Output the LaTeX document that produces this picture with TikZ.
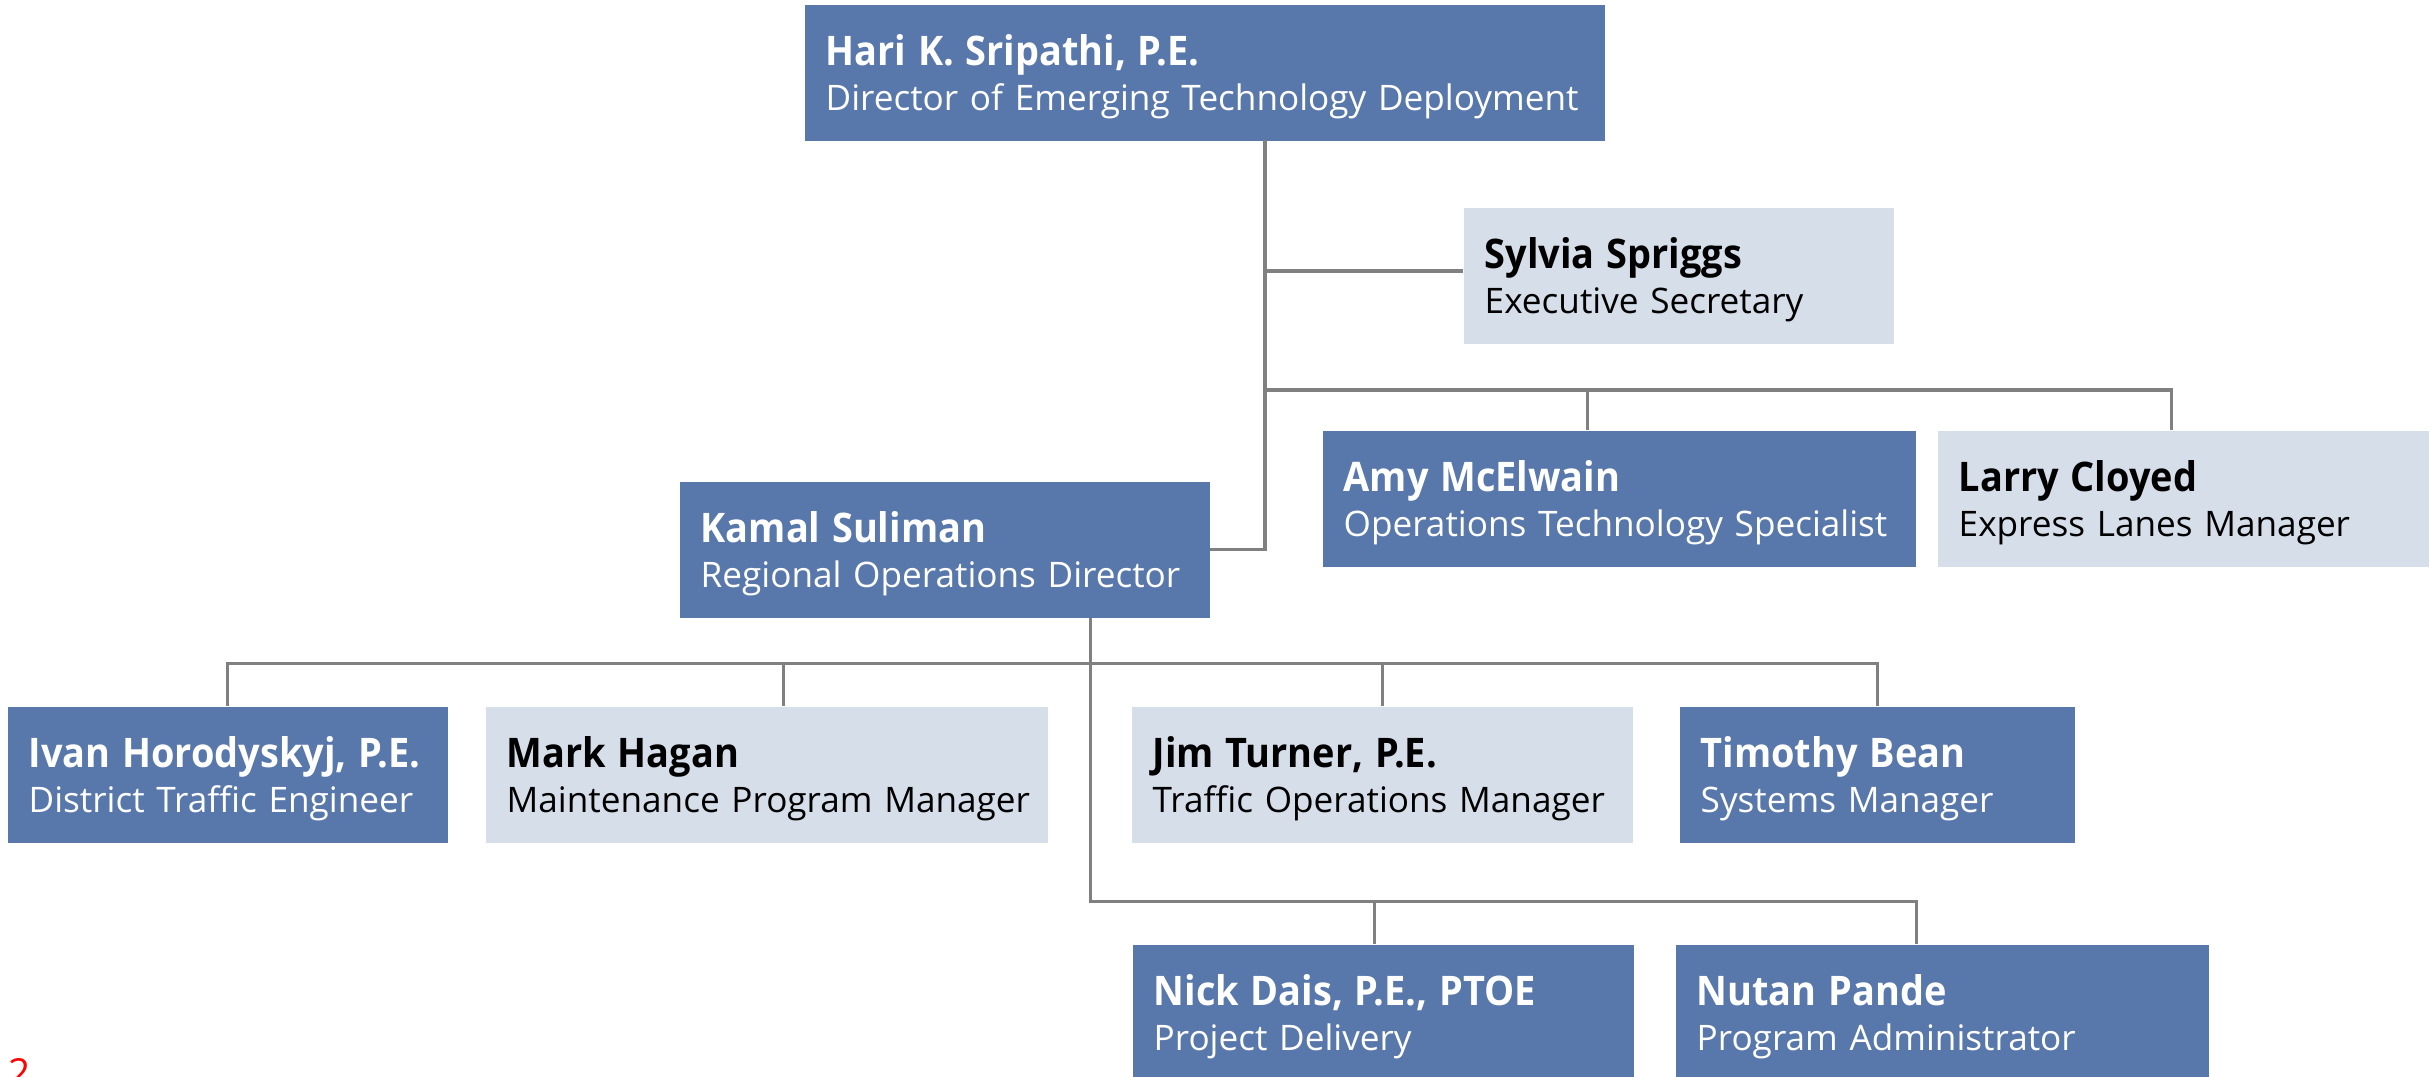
\documentclass[tikz,border=0pt]{standalone}
\usepackage{fontspec}
\setmainfont{Open Sans}
\newfontfamily\namefont[FakeStretch=0.93]{Open Sans}
\definecolor{leadblue}{RGB}{88,119,171}
\definecolor{staffgrey}{RGB}{214,222,234}
\definecolor{linkgrey}{RGB}{128,128,128}
\newcommand\fullname[1]{\mbox{\rule{0pt}{0.40cm}\namefont\fontsize{11.6}{12.8}\selectfont\bfseries #1}}
\newcommand\post[1]{\mbox{\rule[-0.09cm]{0pt}{0.09cm}#1}}
\begin{document}
\begin{tikzpicture}[yscale=-1,
    card/.style={anchor=north west,minimum height=1.36cm,inner xsep=0.21cm,
      inner ysep=0pt,align=left,font=\fontsize{10}{12.8}\selectfont},
    lead/.style={card,fill=leadblue,text=white},
    staff/.style={card,fill=staffgrey,text=black},
    link/.style={draw=linkgrey,line width=0.9pt}]
    \useasboundingbox (0,0) rectangle (24.33,10.77);
    \node[lead,text width=7.58cm](hari) at (8.04,0.04)
      {\fullname{Hari K. Sripathi, P.E.}\\\post{Director of Emerging Technology Deployment}};
    \node[staff,text width=3.88cm](sylvia) at (14.63,2.07)
      {\fullname{Sylvia Spriggs}\\\post{Executive Secretary}};
    \node[lead,text width=5.51cm](amy) at (13.22,4.30)
      {\fullname{Amy McElwain}\\\post{Operations Technology Specialist}};
    \node[staff,text width=4.49cm](larry) at (19.37,4.30)
      {\fullname{Larry Cloyed}\\\post{Express Lanes Manager}};
    \node[lead,text width=4.88cm](kamal) at (6.79,4.81)
      {\fullname{Kamal Suliman}\\\post{Regional Operations Director}};
    \node[lead,text width=3.98cm](ivan) at (0.07,7.06)
      {\fullname{Ivan Horodyskyj, P.E.}\\\post{District Traffic Engineer}};
    \node[staff,text width=5.20cm](mark) at (4.85,7.06)
      {\fullname{Mark Hagan}\\\post{Maintenance Program Manager}};
    \node[staff,text width=4.59cm](jim) at (11.31,7.06)
      {\fullname{Jim Turner, P.E.}\\\post{Traffic Operations Manager}};
    \node[lead,text width=3.53cm](timothy) at (16.79,7.06)
      {\fullname{Timothy Bean}\\\post{Systems Manager}};
    \node[lead,text width=4.59cm](nick) at (11.32,9.44)
      {\fullname{Nick Dais, P.E., PTOE}\\\post{Project Delivery}};
    \node[lead,text width=4.91cm](nutan) at (16.75,9.44)
      {\fullname{Nutan Pande}\\\post{Program Administrator}};
    \node[red,anchor=north west,inner sep=0pt,font=\rmfamily\fontsize{11}{12}\selectfont]
      (pagenum) at (0.08,10.58) {2};
    \coordinate (spine) at (12.65,1.40);
    \coordinate (sylviarow) at (0,2.71);
    \coordinate (execrow) at (12.65,3.90);
    \coordinate (midrow) at (0,6.635);
    \coordinate (lowrow) at (0,9.017);
    \coordinate (amytap) at ([xshift=-0.315cm]amy.north);
    \coordinate (larrytap) at ([xshift=-0.115cm]larry.north);
    \coordinate (kamaltap) at ([xshift=1.46cm]kamal.south);
    \coordinate (marktap) at ([xshift=0.17cm]mark.north);
    \coordinate (nicktap) at ([xshift=-0.085cm]nick.north);
    \coordinate (nutantap) at ([xshift=-0.255cm]nutan.north);
    \draw[link](spine) |- (kamal.east);
    \draw[link](spine |- sylviarow) -- (sylvia.west |- sylviarow);
    \draw[link](execrow) -| (larrytap) (amytap |- execrow) -- (amytap);
    \draw[link](ivan.north) |- (timothy.north |- midrow) -- (timothy.north);
    \draw[link](marktap |- midrow) -- (marktap) (jim.north |- midrow) -- (jim.north);
    \draw[link](kamaltap) |- (nutantap |- lowrow) -- (nutantap);
    \draw[link](nicktap |- lowrow) -- (nicktap);
  \end{tikzpicture}
\end{document}
